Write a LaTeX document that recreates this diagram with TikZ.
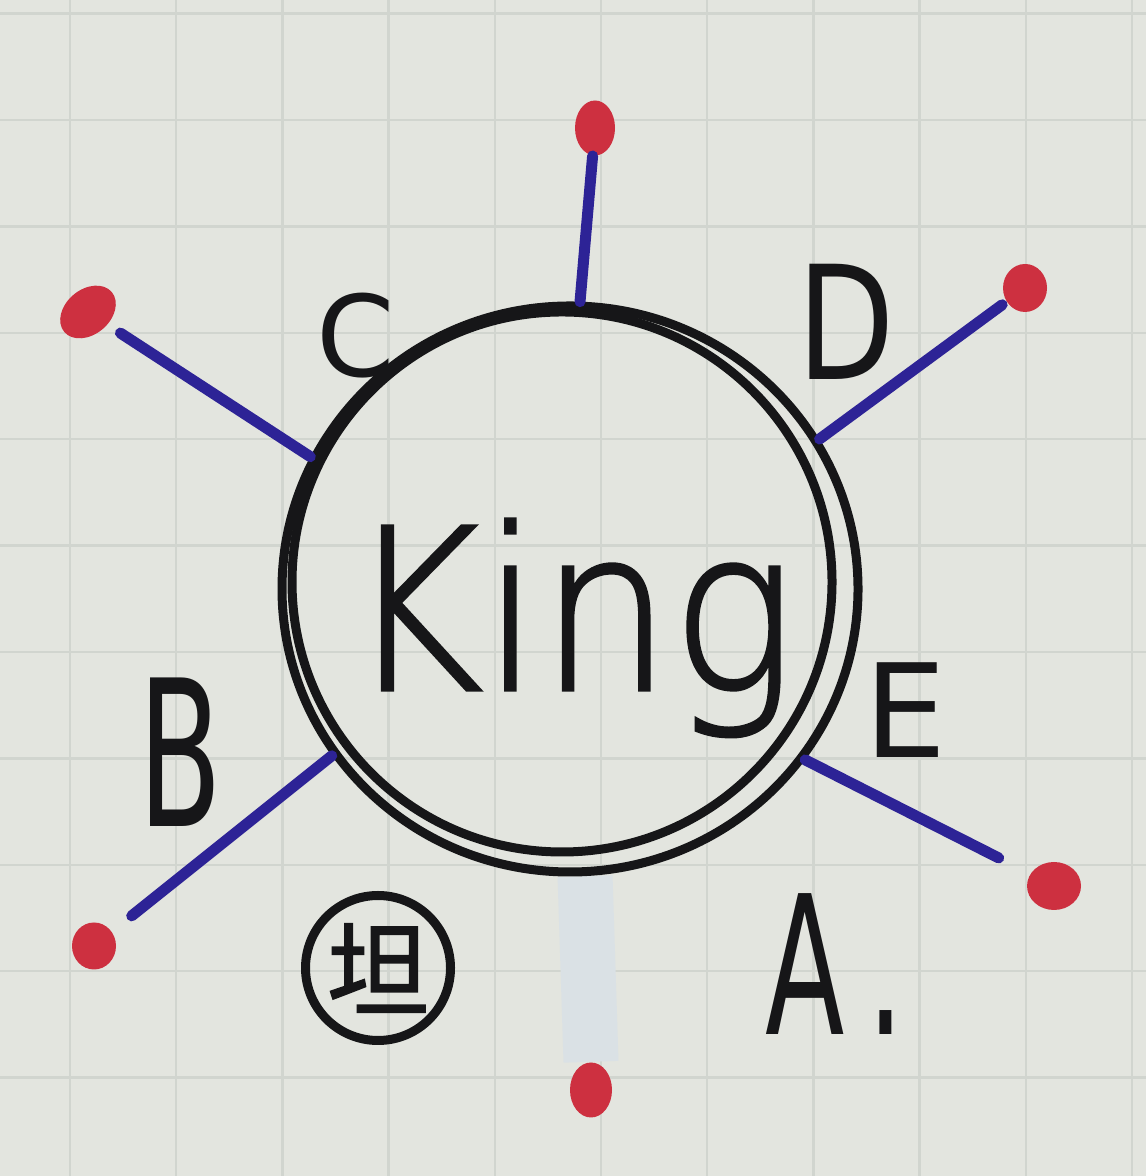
\documentclass[tikz,border=0pt]{standalone}
\usepackage{fontspec}
\setmainfont{DejaVu Sans}
\newfontfamily\handfont[FakeBold=1.5]{DejaVu Sans ExtraLight}
\newfontfamily\cjkfont[FakeBold=1.5]{Noto Sans CJK SC}
\usetikzlibrary{shapes.geometric,backgrounds}
\definecolor{paper}{RGB}{227,229,223}
\definecolor{gridline}{RGB}{209,213,207}
\definecolor{ink}{RGB}{22,22,24}
\definecolor{blueink}{RGB}{45,35,150}
\definecolor{redink}{RGB}{205,48,64}
\definecolor{whiteout}{RGB}{218,225,229}

\begin{document}
\begin{tikzpicture}[
  inkline/.style={draw=ink,line width=0.09cm,inner sep=0pt},
  spoke/.style={draw=blueink,line width=0.11cm,line cap=round},
  reddot/.style={ellipse,fill=redink,inner sep=0pt},
  letter/.style={text=ink,inner sep=0pt}]
\useasboundingbox (0,0) rectangle (11.46,11.76);
% the king, drawn twice round
\node[inkline,circle,minimum size=5.4cm] (king) at (5.62,5.94) {};
\node[inkline,ellipse,minimum width=5.76cm,minimum height=5.66cm] (ring) at (5.70,5.87) {};
\node[letter,anchor=base,font=\handfont\fontsize{64}{64}\selectfont,xscale=0.92] (kingname) at (5.71,4.86) {King};
% red dots
\node[reddot,minimum width=0.40cm,minimum height=0.55cm] (dotTop) at (5.95,10.48) {};
\node[reddot,minimum width=0.62cm,minimum height=0.45cm,rotate=40] (dotC) at (0.88,8.64) {};
\node[reddot,minimum width=0.44cm,minimum height=0.48cm] (dotD) at (10.25,8.88) {};
\node[reddot,minimum width=0.54cm,minimum height=0.48cm] (dotE) at (10.54,2.90) {};
\node[reddot,minimum width=0.44cm,minimum height=0.47cm] (dotB) at (0.94,2.30) {};
\node[reddot,minimum width=0.42cm,minimum height=0.55cm] (dotA) at (5.91,0.86) {};
% spokes
\draw[spoke] (ring.88) -- (dotTop);
\draw[spoke,shorten >=0.15cm] (ring.153) -- (dotC);
\draw[spoke,shorten >=0.05cm] (ring.31) -- (dotD);
\draw[spoke,shorten >=0.35cm] (ring.-36) -- (dotE);
\draw[spoke,shorten >=0.25cm] (ring.215) -- (dotB);
% letters
\node[letter,font=\fontsize{32}{32}\selectfont] (labC) at (3.56,8.40) {C};
\node[letter,font=\fontsize{45}{45}\selectfont,xscale=0.8] (labD) at (8.46,8.54) {D};
\node[letter,font=\fontsize{58}{58}\selectfont,xscale=0.6] (labB) at (1.80,4.24) {B};
\node[letter,font=\fontsize{37}{37}\selectfont] (labE) at (9.06,4.66) {E};
\node[letter,font=\fontsize{55}{55}\selectfont,xscale=0.6,anchor=base west] (labA) at (7.65,1.41) {A\kern0.2em.};
\node[inkline,circle,minimum size=1.45cm,text=ink,font=\cjkfont\fontsize{29}{29}\selectfont] (tan) at (3.78,2.08) {坦};
% grid paper and the whited-out spoke
\begin{scope}[on background layer]
\fill[paper] (0,0) rectangle (11.46,11.76);
\foreach \i in {0,...,10}
  \draw[gridline,line width=0.025cm] ({0.70+1.062*\i},0) -- ++(0,11.76);
\foreach \j in {-1,...,10}
  \draw[gridline,line width=0.025cm] (0,{10.56-1.064*\j}) -- ++(11.46,0);
\draw[whiteout,line width=0.55cm] (ring.-87) -- (dotA.north);
\end{scope}
\end{tikzpicture}
\end{document}
